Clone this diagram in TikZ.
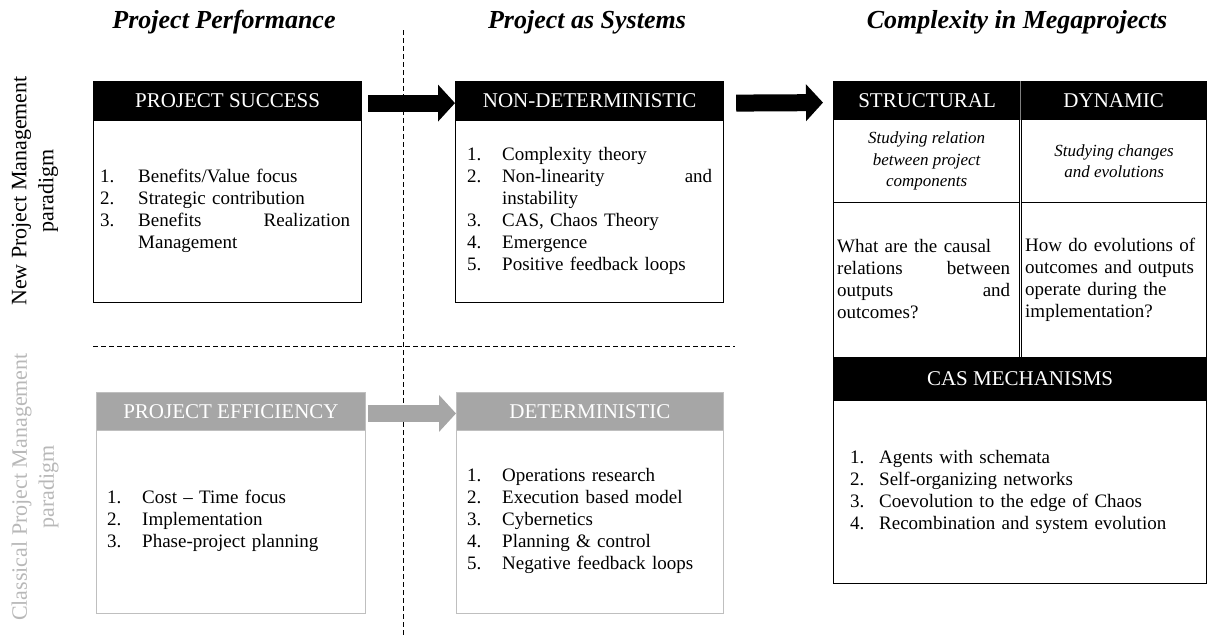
\documentclass[tikz,border=0pt]{standalone}
\usepackage{fontspec}
\setmainfont{Liberation Serif}
\usetikzlibrary{arrows.meta,calc}
\definecolor{hgray}{HTML}{A6A6A6}
\definecolor{bgray}{HTML}{BFBFBF}
\definecolor{lgray}{HTML}{B8B8B8}
\newlength\numw
\newcommand\nl[2]{\makebox[\numw][l]{#1}#2}
\newcommand\cont[1]{\hspace*{\numw}#1}
\begin{document}
\begin{tikzpicture}[x=1pt,y=-1pt,
  hdr/.style={rectangle, draw=black, fill=black, text=white, inner sep=0pt, line width=1.2pt,
    anchor=north west, font=\fontsize{21}{24}\selectfont},
  ghdr/.style={rectangle, draw=bgray, fill=hgray, text=white, inner sep=0pt, line width=0.9pt,
    anchor=north west, font=\fontsize{21}{24}\selectfont},
  bodybox/.style={rectangle, draw=black, fill=white, inner sep=0pt, line width=1.2pt, anchor=north west},
  gbodybox/.style={rectangle, draw=bgray, fill=white, inner sep=0pt, line width=0.9pt, anchor=north west},
  listtext/.style={anchor=west, inner sep=0pt, align=left, font=\fontsize{19}{22}\selectfont},
  celltext/.style={anchor=center, inner sep=0pt, align=center, font=\fontsize{17}{21.5}\selectfont\itshape},
  title/.style={inner sep=0pt, font=\fontsize{26}{30}\selectfont\bfseries\itshape},
  sidelabel/.style={inner sep=0pt, rotate=90, align=center, font=\fontsize{22}{27}\selectfont},
  fatarrow/.style={line width=17pt, -{Triangle[length=17pt,width=36pt]}},
  sep/.style={line width=0.9pt, dash pattern=on 5pt off 3pt}
]
\useasboundingbox (0,0) rectangle (1208,637);

% titles
\node[title] (ti1) at (224,22) {Project Performance};
\node[title] (ti2) at (587,22) {Project as Systems};
\node[title] (ti3) at (1017,22) {Complexity in Megaprojects};

% separators
\draw[sep] (403,30) -- (403,637);
\draw[sep] (93,346) -- (735,346);

% side labels
\node[sidelabel] (sl1) at (35,191) {New Project Management\\paradigm};
\node[sidelabel, text=lgray] (sl2) at (35,487) {Classical Project Management\\paradigm};

% box 1
\node[hdr, minimum width=268pt, minimum height=39pt] (h1) at (93,81) {PROJECT SUCCESS};
\node[bodybox, minimum width=268pt, minimum height=182pt] (b1) at (93,120) {};
\node[listtext, text width=251pt] (l1) at (100,211) {\setlength\numw{38pt}%
\nl{1.}{Benefits/Value focus}\\
\nl{2.}{Strategic contribution}\\
\nl{3.}{\makebox[212pt][l]{Benefits\hfill Realization}}\\
\cont{Management}};

% box 2
\node[hdr, minimum width=268pt, minimum height=39pt] (h2) at (455,81) {NON-DETERMINISTIC};
\node[bodybox, minimum width=268pt, minimum height=182pt] (b2) at (455,120) {};
\node[listtext, text width=245pt] (l2) at (467,211) {\setlength\numw{35pt}%
\nl{1.}{Complexity theory}\\
\nl{2.}{\makebox[210pt][l]{Non-linearity\hfill and}}\\
\cont{instability}\\
\nl{3.}{CAS, Chaos Theory}\\
\nl{4.}{Emergence}\\
\nl{5.}{Positive feedback loops}};

% box 3
\node[ghdr, minimum width=269pt, minimum height=38pt] (h3) at (96,392) {PROJECT EFFICIENCY};
\node[gbodybox, minimum width=269pt, minimum height=183pt] (b3) at (96,430) {};
\node[listtext, text width=245pt] (l3) at (107,521) {\setlength\numw{35pt}%
\nl{1.}{Cost -- Time focus}\\
\nl{2.}{Implementation}\\
\nl{3.}{Phase-project planning}};

% box 4
\node[ghdr, minimum width=267pt, minimum height=38pt] (h4) at (456,392) {DETERMINISTIC};
\node[gbodybox, minimum width=267pt, minimum height=183pt] (b4) at (456,430) {};
\node[listtext, text width=245pt] (l4) at (467,521) {\setlength\numw{35pt}%
\nl{1.}{Operations research}\\
\nl{2.}{Execution based model}\\
\nl{3.}{Cybernetics}\\
\nl{4.}{Planning \& control}\\
\nl{5.}{Negative feedback loops}};

% right block
\node[hdr, minimum width=187pt, minimum height=38pt] (hs) at (833,81) {STRUCTURAL};
\node[hdr, minimum width=186pt, minimum height=38pt] (hd) at (1020,81) {DYNAMIC};
\draw[gray, line width=0.8pt] (hd.north west) -- (hd.south west);
\node[bodybox, minimum width=186pt, minimum height=83pt] (cs1) at (833,119) {};
\node[bodybox, minimum width=185pt, minimum height=83pt] (cd1) at (1021,119) {};
\node[bodybox, minimum width=186pt, minimum height=155pt] (cs2) at (833,202) {};
\node[bodybox, minimum width=185pt, minimum height=155pt] (cd2) at (1021,202) {};
\node[celltext] (ct1) at (cs1.center) {Studying relation\\between project\\components};
\node[celltext] (ct2) at (cd1.center) {Studying changes\\and evolutions};
\node[listtext, text width=173pt] (ct3) at (837,279.5) {%
\makebox[173pt][s]{What are the causal}\\
\makebox[173pt][l]{relations\hfill between}\\
\makebox[173pt][l]{outputs\hfill and}\\
outcomes?};
\node[listtext, text width=178pt] (ct4) at (1025,279.5) {%
\makebox[178pt][s]{How do evolutions of}\\
\makebox[178pt][s]{outcomes and outputs}\\
\makebox[178pt][s]{operate during the}\\
implementation?};
\node[hdr, minimum width=373pt, minimum height=43pt] (hc) at (833,357) {CAS MECHANISMS};
\node[bodybox, minimum width=373pt, minimum height=183pt] (bc) at (833,400) {};
\node[listtext, text width=340pt] (lc) at (850,491.5) {\setlength\numw{29pt}%
\nl{1.}{Agents with schemata}\\
\nl{2.}{Self-organizing networks}\\
\nl{3.}{Coevolution to the edge of Chaos}\\
\nl{4.}{Recombination and system evolution}};

% arrows
\draw[fatarrow, black] ($(h1.east)+(6,2)$) -- ($(h2.west)+(0,2)$);
\draw[fatarrow, black] ($(h2.east)+(12,2)$) -- ($(hs.west)+(-10,2)$);
\draw[fatarrow, hgray] ($(h3.east)+(2,2)$) -- ($(h4.west)+(0,2)$);
\end{tikzpicture}
\end{document}
